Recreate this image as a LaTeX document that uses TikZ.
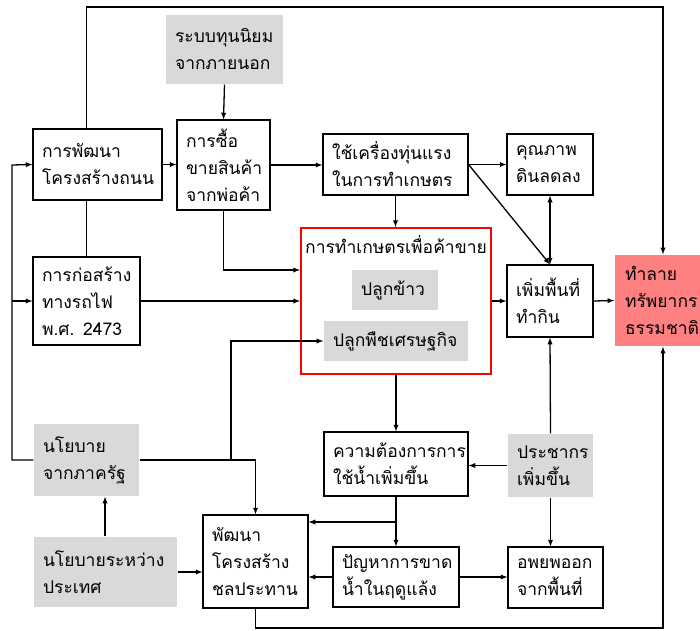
\documentclass[tikz,border=0pt]{standalone}
\usepackage{fontspec}
\newfontfamily\thaifont[Script=Thai]{Loma}
\usepackage{tikz}
\usetikzlibrary{calc}
\definecolor{shade}{RGB}{217,217,217}
\definecolor{harm}{RGB}{255,128,128}
\newcommand\thaitext{\thaifont\fontsize{17.5}{27}\selectfont}

\begin{document}
\begin{tikzpicture}[x=1pt,y=-1pt,line width=1.3pt,
        box/.style={draw, line width=1.1pt, align=left, inner xsep=9pt, font=\thaitext},
        grey/.style={fill=shade, align=left, inner xsep=9pt, font=\thaitext}]
            \useasboundingbox (0,0) rectangle (700,630);
            % top row
            \node[grey, text width=99pt, minimum height=69pt] (capital) at (224.5,49.5) {ระบบทุนนิยม\\จากภายนอก};
            \node[box, text width=111pt, minimum height=71pt] (road) at (97.5,164.5) {การพัฒนา\\โครงสร้างถนน};
            \node[box, text width=75pt, minimum height=90pt] (trade) at (223.5,165) {การซื้อ\\ขายสินค้า\\จากพ่อค้า};
            \node[box, text width=127pt, minimum height=61pt] (machine) at (395.5,164.5) {ใช้เครื่องทุ่นแรง\\ในการทำเกษตร};
            \node[box, text width=68pt, minimum height=61pt] (soil) at (550,164.5) {คุณภาพ\\ดินลดลง};
            % middle row
            \node[box, text width=89pt, minimum height=88pt] (rail) at (86.5,301) {การก่อสร้าง\\ทางรถไฟ\\พ.ศ. 2473};
            \node[draw=red, line width=1.8pt, minimum width=190pt, minimum height=146pt] (farm) at (396,301) {};
            \node[font=\thaitext] (farmtitle) at (396,245) {การทำเกษตรเพื่อค้าขาย};
            \node[grey, text width=68pt, minimum height=40pt] (rice) at (395,290) {ปลูกข้าว};
            \node[grey, text width=126pt, minimum height=40pt] (cash) at (396,341) {ปลูกพืชเศรษฐกิจ};
            \node[box, text width=68pt, minimum height=72pt] (land) at (550,301) {เพิ่มพื้นที่\\ทำกิน};
            \node[fill=harm, align=left, inner xsep=10pt, text width=76pt, minimum height=91pt, font=\thaitext] (destroy) at (663,300.5) {ทำลาย\\ทรัพยากร\\ธรรมชาติ};
            % lower rows
            \node[grey, text width=87pt, minimum height=72pt] (state) at (86.5,460) {นโยบาย\\จากภาครัฐ};
            \node[box, text width=126pt, minimum height=64pt] (water) at (396,464) {ความต้องการการ\\ใช้น้ำเพิ่มขึ้น};
            \node[grey, text width=67pt, minimum height=63pt] (pop) at (550.5,465.5) {ประชากร\\เพิ่มขึ้น};
            \node[grey, text width=125pt, minimum height=70pt] (intl) at (105.5,572) {นโยบายระหว่าง\\ประเทศ};
            \node[box, text width=87pt, minimum height=93pt] (irrig) at (255.5,561.5) {พัฒนา\\โครงสร้าง\\ชลประทาน};
            \node[box, text width=108pt, minimum height=60pt] (drought) at (396,577) {ปัญหาการขาด\\น้ำในฤดูแล้ง};
            \node[box, text width=77pt, minimum height=61pt] (migrate) at (555.5,577.5) {อพยพออก\\จากพื้นที่};

            \coordinate (topR) at (663,7);
            \coordinate (botR) at (663,628);
            \coordinate (bus) at (12,165);
            \coordinate (fork) at (231,460);
            \coordinate (split) at (397,522);

            % connectors
            \draw[-latex] (road.north -| rail.north) |- (topR) -- (destroy.north);
            \draw (road.south -| rail.north) -- (rail.north);
            \draw[-latex] (capital.south) -- (trade.north);
            \draw[-latex] (road.east) -- (road.east -| trade.west);
            \draw[-latex] (trade.east) -- (trade.east -| machine.west);
            \draw[-latex] (trade.south) |- ([yshift=31pt]farm.west);
            \draw[-latex] (machine.south) -- (machine.south |- farm.north);
            \draw[-latex] (machine.east) -- (soil.west);
            \draw[-latex] (machine.east) -- (land.north);
            \draw[latex-latex] (soil.south) -- (land.north);
            \draw[-latex] (rail.east) -- (rail.east -| farm.west);
            \draw[-latex] (farm.east) -- (land.west);
            \draw[-latex] (land.east) -- (destroy.west);
            \draw[-latex] (state.west) -| (bus) -- (road.west);
            \draw[-latex] (rail.west -| bus) -- (rail.west);
            \draw[-latex] (state.east) -| (irrig.north);
            \draw[-latex] (fork) |- (cash.west);
            \draw[-latex] (intl.north -| 105,0) -- (state.south -| 105,0);
            \draw[-latex] (intl.east) -- (intl.east -| irrig.west);
            \draw[-latex] (farm.south) -- (water.north);
            \draw[-latex] (water.south) -- (drought.north);
            \draw[-latex] (split) -- (split -| irrig.east);
            \draw[-latex] (drought.west) -- (drought.west -| irrig.east);
            \draw[-latex] (drought.east) -- (drought.east -| migrate.west);
            \draw[-latex] (pop.west) -- (pop.west -| water.east);
            \draw[-latex] (pop.north) -- (land.south);
            \draw[-latex] (pop.south) -- (pop.south |- migrate.north);
            \draw[-latex] (irrig.south) |- (botR) -- (destroy.south);
        \end{tikzpicture}
\end{document}
